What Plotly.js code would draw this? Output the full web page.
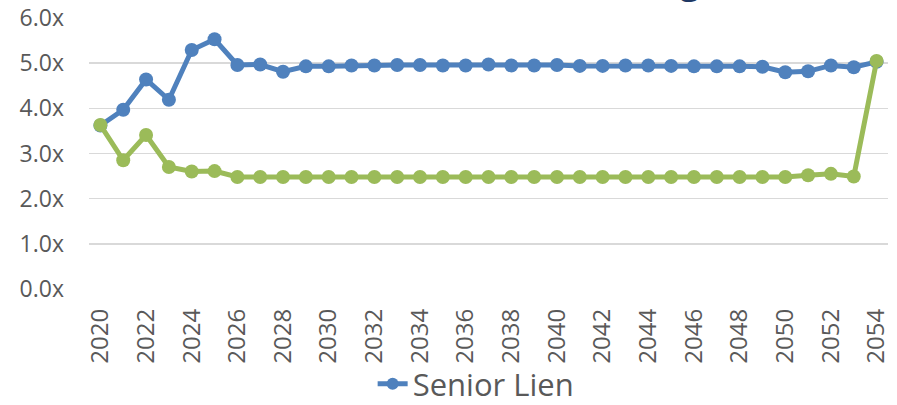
<!DOCTYPE html>
<html>
<head>
<meta charset="utf-8">
<script src="https://cdn.plot.ly/plotly-3.0.1.min.js"></script>
<style>
html,body{margin:0;padding:0;background:#fff;}
#chart{width:897px;height:405px;}
</style>
</head>
<body>
<div id="chart"></div>
<script>
var years = [2020,2021,2022,2023,2024,2025,2026,2027,2028,2029,2030,2031,2032,2033,2034,2035,2036,2037,2038,2039,2040,2041,2042,2043,2044,2045,2046,2047,2048,2049,2050,2051,2052,2053,2054];
var seniorLien = [3.62,3.97,4.64,4.19,5.29,5.53,4.96,4.97,4.81,4.93,4.93,4.95,4.95,4.96,4.96,4.95,4.95,4.97,4.95,4.95,4.96,4.94,4.94,4.95,4.95,4.94,4.93,4.93,4.93,4.92,4.80,4.82,4.95,4.91,5.03];
var secondSeries = [3.63,2.85,3.41,2.70,2.60,2.61,2.48,2.48,2.48,2.48,2.48,2.48,2.48,2.48,2.48,2.48,2.48,2.48,2.48,2.48,2.48,2.48,2.48,2.48,2.48,2.48,2.48,2.48,2.48,2.48,2.48,2.52,2.55,2.49,5.05];
var seriesNames = ["Senior Lien", ""];
var titleText = "Debt Service Coverage";

var FONT = "'Open Sans', Lato, 'DejaVu Sans', sans-serif";
var GRAY = "#595959";

var traces = [
  {
    x: years, y: seniorLien, name: seriesNames[0], type: "scatter", mode: "lines+markers",
    line: {color: "#4F81BD", width: 5},
    marker: {color: "#4F81BD", size: 14},
    showlegend: true
  },
  {
    x: years, y: secondSeries, name: seriesNames[1], type: "scatter", mode: "lines+markers",
    line: {color: "#9BBB59", width: 5},
    marker: {color: "#9BBB59", size: 14},
    showlegend: false
  }
];

var layout = {
  width: 897, height: 405,
  margin: {l: 89, r: 9, t: 17.5, b: 115.5, pad: 0},
  paper_bgcolor: "#ffffff", plot_bgcolor: "#ffffff",
  font: {family: FONT, color: GRAY},
  xaxis: {
    range: [2019.5, 2054.5], tick0: 2020, dtick: 2,
    tickangle: -90, showgrid: false, zeroline: false, showline: false,
    ticks: "", ticklabelstandoff: 14, automargin: false,
    tickfont: {family: FONT, size: 24, color: GRAY}
  },
  yaxis: {
    range: [0, 6], dtick: 1, tickformat: ".1f", ticksuffix: "x",
    showgrid: true, gridcolor: "#D9D9D9", gridwidth: 1.5,
    zeroline: false, showline: false, ticks: "", ticklabelstandoff: 24, automargin: false,
    tickfont: {family: FONT, size: 23, color: GRAY}
  },
  legend: {
    orientation: "h", x: 0.355, xanchor: "left",
    yref: "container", y: (405 - 384) / 405, yanchor: "middle",
    font: {family: FONT, size: 31, color: GRAY}, itemsizing: "constant",
    bgcolor: "rgba(0,0,0,0)", borderwidth: 0, tracegroupgap: 0
  },
  annotations: [{
    text: titleText, xref: "paper", yref: "paper", x: (723 - 89) / 799, xanchor: "right",
    y: (289.5 - 5) / 272, yanchor: "bottom", showarrow: false,
    font: {family: FONT, size: 36, color: "#1F3864", weight: "bold"}
  }],
  showlegend: true
};

Plotly.newPlot("chart", traces, layout, {staticPlot: true, displayModeBar: false});
</script>
</body>
</html>
